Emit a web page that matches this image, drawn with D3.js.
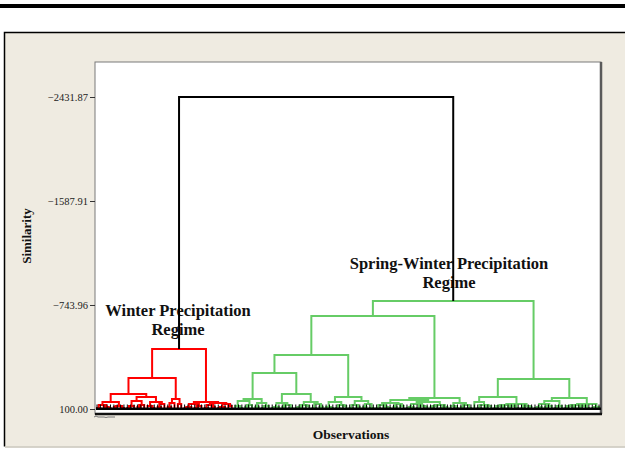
<!DOCTYPE html>
<html lang="en">
<head>
<meta charset="UTF-8">
<title>Dendrogram</title>
<style>
  body { margin: 0; background: #fff; }
  text { font-family: "Liberation Serif", "Times New Roman", serif; }
</style>
</head>
<body>
<script src="https://cdn.jsdelivr.net/npm/d3@7"></script>
<script>
// similarity axis
const yTicks = [100.00, -743.96, -1587.91, -2431.87]
const rootSimilarity = -2431.87
const leafSimilarity = 100

// cluster trees (newick-like: "o" = observation, number after ")" = similarity of the merge)
const winterTree = `
((
  (
    (((o,o)92,(o,(o,o)92)84)68,((o,o)84,(o,o)92)76)43,
    ((((o,o)92,o)76,((o,o)84,o)68)35,((o,(o,o)92)76,((o,o)84,o)59)43)3
  )-22,
  (((o,o)84,o)51,(o,o)59)19
 )-152,
 (
  (((o,o)92,o)84,((o,o)92,o)76)59,
  (((o,o)92,(o,o)84)68,(((o,o)92,o)84,(o,o)76)59)51
 )43
)-387`

const springWinterTree = `
((
  (
   (
    (((o,(o,o)92)76,((o,o)84,o)68)35,((o,o)84,((o,o)92,o)76)51)19,
    ((((o,o)92,o)84,((o,o)84,(o,o)92)68)51,((((o,o)92,o)84,(o,o)76)68,((o,o)92,(o,o)84)59)43)-22
   )-192,
   (((o,(o,o)92)84,((o,o)92,(o,o)76)68)43,(((o,o)92,(o,o)84)68,((o,o)84,(o,o)92)59)35)3
  )-338,
  (
   (
    (((o,o)92,(o,(o,o)92)84)68,((o,o)84,(o,o)76)59)51,
    ((((o,o)92,o)84,((o,o)92,(o,o)84)76)59,(((o,o)84,o)76,((o,o)92,o)84)68)43
   )27,
   ((o,(o,o)92)76,((o,o)84,(o,o)92)68)51
  )11
 )-655,
 (
  (
   (o,((o,o)92,((o,o)84,o)76)68)43,
   ((((o,o)92,(o,o)84)76,((o,o)84,(o,o)92)76)68,((o,o)92,(o,o)84)76)59
  )3,
  (
   ((((o,o)92,o)84,((o,o)84,o)76)59,((o,o)92,o)76)35,
   ((((o,o)92,(o,o)84)76,((o,o)84,(o,o)92)76)68,((o,o)92,o)84)59
  )11
 )-143
)-776`

const clusterNames = ["Winter Precipitation", "Spring-Winter Precipitation"]
const clusterColors = ["#ff0000", "#66cc66"]

function parseTree(str) {
  const s = str.replace(/\s+/g, "")
  let i = 0
  function node() {
    if (s[i] === "(") {
      i++
      const children = [node()]
      while (s[i] === ",") { i++; children.push(node()) }
      i++ // ")"
      const m = /^-?[\d.]+/.exec(s.slice(i))
      i += m[0].length
      return { sim: +m[0], children: children }
    }
    i++
    return { sim: leafSimilarity }
  }
  return node()
}

const data = {
  sim: rootSimilarity,
  children: [parseTree(winterTree), parseTree(springWinterTree)]
}
data.children.forEach((c, k) => c.group = k)

const width = 625, height = 449
const svg = d3.select("body").append("svg")
  .attr("width", width)
  .attr("height", height)

// thick rule at the top of the page
svg.append("rect").attr("x", 0).attr("y", 4).attr("width", width).attr("height", 4).attr("fill", "#000")

// figure background
svg.append("rect")
  .attr("x", 4.5).attr("y", 32.5).attr("width", 640).attr("height", 414)
  .attr("fill", "#efebe1").attr("stroke", "none")
svg.append("path").attr("d", "M4.5,446.5V32.5H625").attr("fill", "none").attr("stroke", "#000").attr("stroke-width", 1.5)
svg.append("path").attr("d", "M5,447H625").attr("stroke", "#c8c4ba").attr("stroke-width", 1.5)

// plot box
const box = { left: 95, top: 62, right: 601, bottom: 414 }
svg.append("rect")
  .attr("x", box.left).attr("y", box.top)
  .attr("width", box.right - box.left).attr("height", box.bottom - box.top)
  .attr("fill", "#fff").attr("stroke", "#7a7a7a").attr("stroke-width", 1)
svg.append("path")
  .attr("d", `M${box.right},${box.top}V${box.bottom}`)
  .attr("stroke", "#5a5a5a").attr("stroke-width", 2.5)
svg.append("path")
  .attr("d", `M${box.left},${box.bottom}H${box.right + 1}`)
  .attr("stroke", "#111").attr("stroke-width", 2.5)
// leftover squiggle under the first observations
svg.append("path")
  .attr("d", "M94,417 q2,-2 4,0 H104 q2,1 4,0 H115")
  .attr("fill", "none").attr("stroke", "#777").attr("stroke-width", 1)

const root = d3.hierarchy(data)
const nLeaves = root.leaves().length
d3.cluster().size([nLeaves, 1]).separation(() => 1)(root)

const x = d3.scaleLinear().domain([0.5, nLeaves - 0.5]).range([97, 599])
const y = d3.scaleLinear().domain([100, -2431.87]).range([409, 97])

// y axis
const yAxis = d3.axisLeft(y).tickValues(yTicks).tickFormat(d3.format(".2f")).tickSize(5).tickPadding(2)
const ga = svg.append("g").attr("transform", `translate(${box.left},0)`).call(yAxis)
ga.select(".domain").remove()
ga.selectAll(".tick line").attr("stroke", "#333")
ga.selectAll(".tick text").attr("fill", "#222").attr("font-size", 10.5)
  .attr("font-family", "'Liberation Serif', serif")

svg.append("text")
  .attr("transform", "translate(31,236) rotate(-90)")
  .attr("text-anchor", "middle").attr("font-weight", "bold").attr("font-size", 13)
  .attr("fill", "#111")
  .text("Similarity")
svg.append("text")
  .attr("x", 351).attr("y", 439)
  .attr("text-anchor", "middle").attr("font-weight", "bold").attr("font-size", 13.5)
  .attr("fill", "#111")
  .text("Observations")

// cluster labels
const labelPos = [[178, 316], [449, 269]]
clusterNames.forEach((name, k) => {
  const t = svg.append("text")
    .attr("text-anchor", "middle").attr("font-weight", "bold").attr("font-size", 16.5)
    .attr("fill", "#111")
  t.append("tspan").attr("x", labelPos[k][0]).attr("y", labelPos[k][1]).text(name)
  t.append("tspan").attr("x", labelPos[k][0]).attr("dy", 19).text("Regime")
})

function groupOf(d) {
  let n = d
  while (n.depth > 1) n = n.parent
  return n.data.group
}

// dendrogram links: one bracket per merge
const merges = root.descendants().filter(d => d.children)
svg.append("g")
  .attr("fill", "none").attr("stroke-width", 2)
  .selectAll("path")
  .data(merges.reverse())
  .enter().append("path")
  .attr("stroke", d => d.depth === 0 ? "#000" : clusterColors[groupOf(d)])
  .attr("d", d => {
    const a = d.children[0], b = d.children[d.children.length - 1]
    return `M${x(a.x)},${y(a.data.sim)}V${y(d.data.sim)}H${x(b.x)}V${y(b.data.sim)}`
  })

// observation ticks along the bottom
svg.append("rect").attr("x", 96).attr("y", 407.5).attr("width", 505).attr("height", 2.5).attr("fill", "#000")
svg.append("g")
  .selectAll("line")
  .data(root.leaves())
  .enter().append("line")
  .attr("x1", d => x(d.x)).attr("x2", d => x(d.x))
  .attr("y1", 404.5).attr("y2", 410)
  .attr("stroke", "#000").attr("stroke-width", 1)
</script>
</body>
</html>
